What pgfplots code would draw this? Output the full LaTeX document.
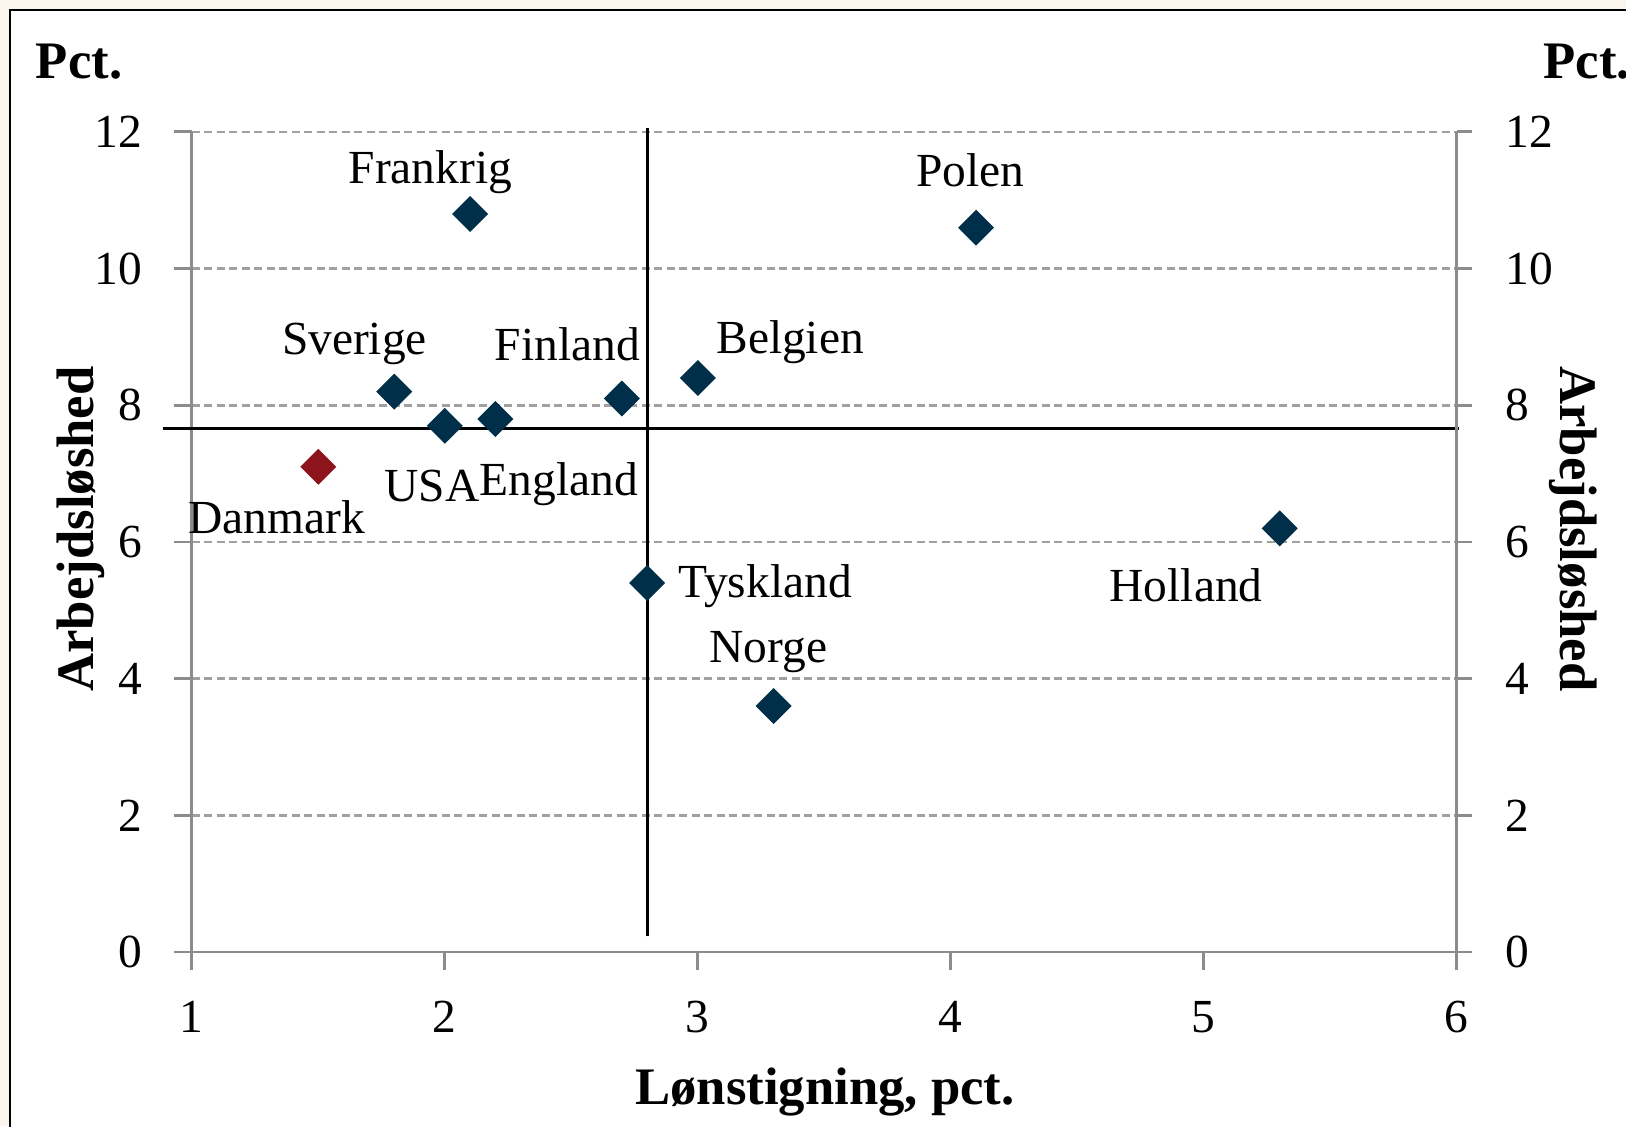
\documentclass[border=0pt]{standalone}
\usepackage{fontspec}
\setmainfont{Liberation Serif}
\usepackage{pgfplots}
\pgfplotsset{compat=1.18}
\definecolor{cream}{RGB}{250,246,238}
\definecolor{navy}{RGB}{0,47,74}
\definecolor{dkred}{RGB}{140,20,26}
\definecolor{axgray}{RGB}{140,140,140}
\definecolor{gridgray}{RGB}{160,160,160}
\begin{document}
\fontsize{13.5}{16}\selectfont
\begin{tikzpicture}[font=\fontsize{13.5}{16}\selectfont]
\path[use as bounding box] (0,0) rectangle (162.6mm,112.6mm);
\fill[cream] (0,0) rectangle (162.6mm,112.6mm);
\fill[white] (1mm,0) rectangle (162.6mm,111.6mm);
\draw[black, line width=0.55pt] (1mm,-1mm) -- (1mm,111.6mm) -- (163mm,111.6mm);
\clip (0,0) rectangle (162.6mm,112.6mm);
\begin{axis}[
  at={(19.18mm,17.4mm)}, anchor=south west,
  width=126.5mm, height=82mm, scale only axis,
  xmin=1, xmax=6, ymin=0, ymax=12,
  xtick={1,2,3,4,5,6}, ytick={0,2,4,6,8,10,12},
  axis x line*=bottom, axis y line*=left,
  axis line style={axgray, line width=0.85pt, -},
  tick style={axgray, line width=0.85pt},
  tick align=outside, major tick length=1.8mm,
  ymajorgrids,
  grid style={gridgray, line width=0.8pt, dash pattern=on 0.8mm off 0.45mm},
  /pgf/number format/assume math mode=true,
  yticklabel style={xshift=-1.5mm},
  xticklabel style={yshift=-1.5mm},
  clip=false,
]
\addplot[black, line width=0.85pt] coordinates {(2.8,0.23) (2.8,12.06)};
\addplot[black, line width=0.85pt] coordinates {(0.885,7.66) (6.01,7.66)};
\addplot[only marks, mark=square*, mark size=1.2mm,
  mark options={rotate=45, fill=navy, draw=navy}] table {
x y
2.1 10.8
4.1 10.6
1.8 8.2
2.0 7.7
2.2 7.8
2.7 8.1
3.0 8.4
2.8 5.4
3.3 3.6
5.3 6.2
};
\addplot[only marks, mark=square*, mark size=1.2mm,
  mark options={rotate=45, fill=dkred, draw=dkred}] coordinates {(1.5,7.1)};
\node at (axis cs:1.943,11.41) {Frankrig};
\node at (axis cs:4.078,11.44) {Polen};
\node at (axis cs:1.643,8.90) {Sverige};
\node at (axis cs:2.484,8.89) {Finland};
\node at (axis cs:3.365,8.93) {Belgien};
\node at (axis cs:1.949,6.82) {USA};
\node at (axis cs:2.451,6.85) {England};
\node at (axis cs:1.336,6.36) {Danmark};
\node at (axis cs:3.266,5.35) {Tyskland};
\node at (axis cs:4.93,5.37) {Holland};
\node at (axis cs:3.279,4.39) {Norge};
\end{axis}
\begin{axis}[
  at={(19.18mm,17.4mm)}, anchor=south west,
  width=126.5mm, height=82mm, scale only axis,
  xmin=1, xmax=6, ymin=0, ymax=12,
  ytick={0,2,4,6,8,10,12},
  axis x line=none, axis y line*=right,
  axis line style={axgray, line width=0.85pt, -},
  tick style={axgray, line width=0.85pt},
  tick align=outside, major tick length=1.5mm,
  /pgf/number format/assume math mode=true,
  yticklabel style={xshift=1.7mm},
]
\end{axis}
\node[font=\fontsize{15}{18}\selectfont\bfseries] at (7.9mm,106.4mm) {Pct.};
\node[font=\fontsize{15}{18}\selectfont\bfseries, anchor=west, inner sep=0pt] at (154.3mm,106.4mm) {Pct.};
\node[font=\fontsize{15}{18}\selectfont\bfseries, rotate=90] at (8.1mm,59.7mm) {Arbejdsløshed};
\node[font=\fontsize{15}{18}\selectfont\bfseries, rotate=-90] at (157.3mm,59.7mm) {Arbejdsløshed};
\node[font=\fontsize{15}{18}\selectfont\bfseries] at (82.5mm,3.4mm) {Lønstigning, pct.};
\end{tikzpicture}
\end{document}
